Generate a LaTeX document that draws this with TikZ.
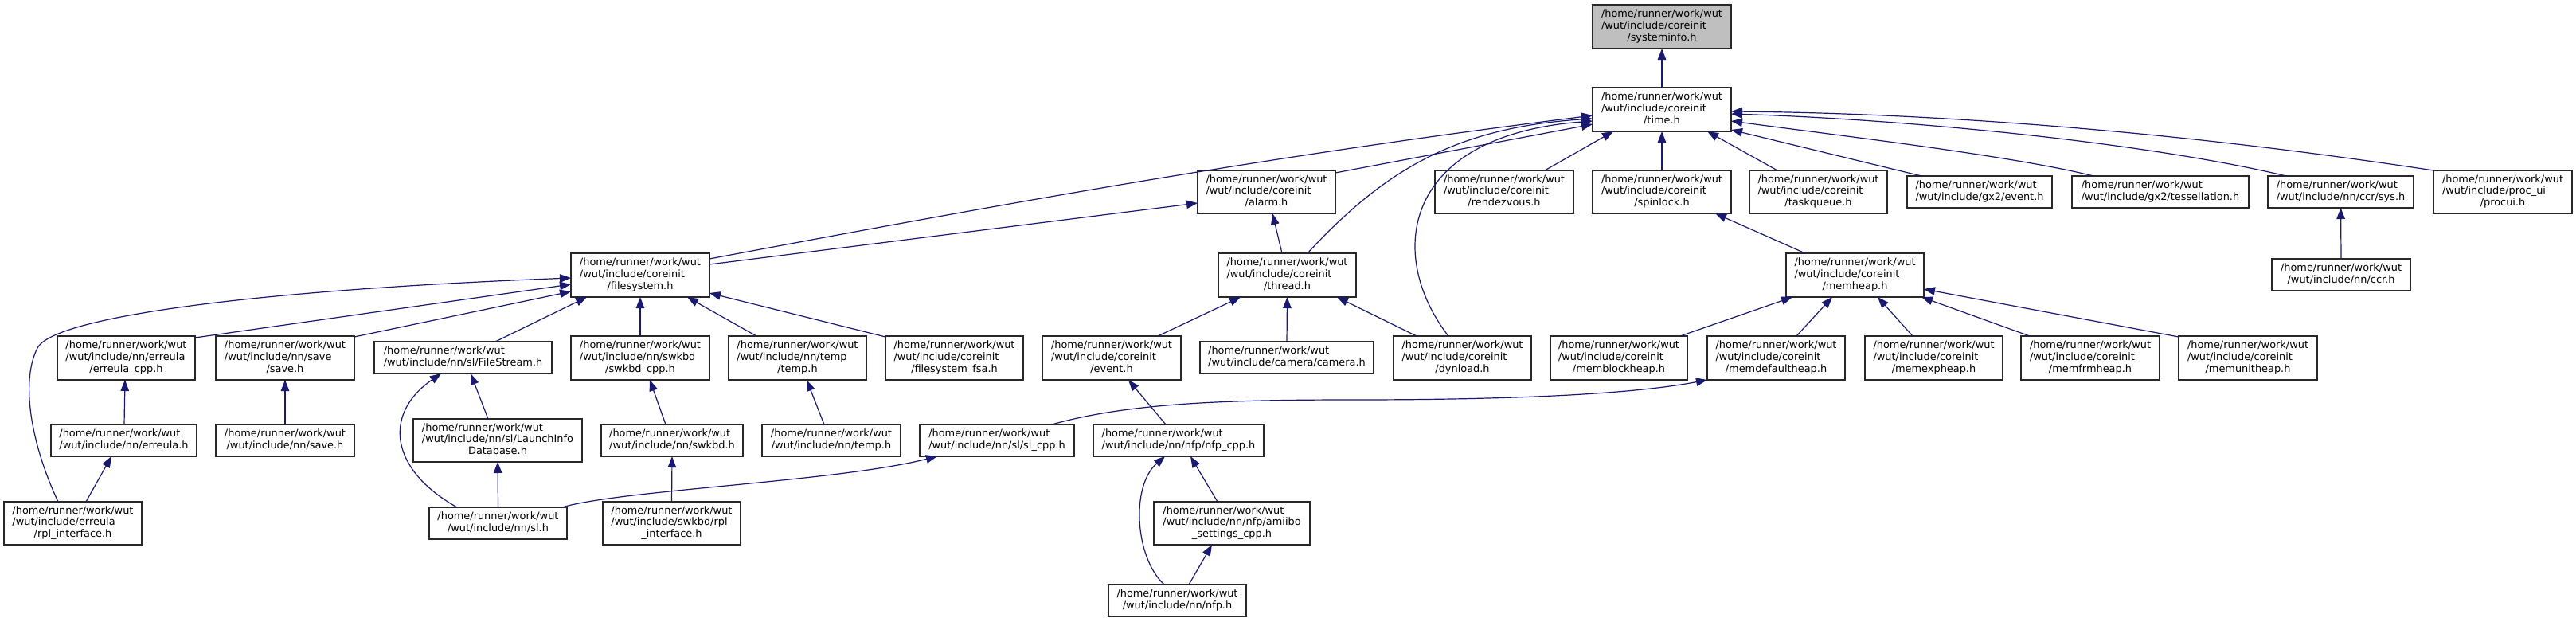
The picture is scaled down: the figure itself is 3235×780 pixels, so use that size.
\documentclass[tikz,border=0pt]{standalone}
\usepackage{fontspec}
\setmainfont{DejaVu Sans}
\usetikzlibrary{arrows.meta,calc}
\definecolor{edgeblue}{RGB}{25,25,112}
\definecolor{rootgray}{RGB}{191,191,191}
\definecolor{bordergray}{RGB}{40,40,40}
\newcommand{\Lthree}[3]{\begin{tabular}{@{}l@{}}#1\\#2\\\multicolumn{1}{@{}c@{}}{#3}\end{tabular}}
\newcommand{\Ltwo}[2]{\begin{tabular}{@{}l@{}}#1\\\multicolumn{1}{@{}c@{}}{#2}\end{tabular}}
\newcommand{\fnode}[7][]{\node[box,#1,minimum width={#4-#3},minimum height={#6-#5}] (#2) at ({(#3+#4)/2},{(#5+#6)/2}) {#7};}
\newcommand{\hrw}{/home/runner/work/wut}
\newcommand{\wic}{/wut/include/coreinit}
\begin{document}
\begin{tikzpicture}[x=1pt,y=-1pt,
  box/.style={draw=bordergray, fill=white, line width=1.2pt, inner sep=0pt, outer sep=0pt, font=\fontsize{12.9}{14.7}\selectfont},
  edge/.style={draw=edgeblue, line width=1.2pt, -{Triangle[length=14pt,width=10.5pt]}, fill=none}]
\fill[white] (0,0) rectangle (3235,780);
\useasboundingbox (0,0) rectangle (3235,780);
% row 0/1
\fnode[fill=rootgray]{sysinfo}{2000}{2174}{6}{61}{\Lthree{\hrw}{\wic}{/systeminfo.h}}
\fnode{time}{2000}{2174}{110}{165}{\Lthree{\hrw}{\wic}{/time.h}}
% row 2
\fnode{alarm}{1504}{1677}{214}{268}{\Lthree{\hrw}{\wic}{/alarm.h}}
\fnode{rendez}{1802}{1976}{214}{268}{\Lthree{\hrw}{\wic}{/rendezvous.h}}
\fnode{spin}{2000}{2174}{214}{268}{\Lthree{\hrw}{\wic}{/spinlock.h}}
\fnode{taskq}{2197}{2370}{214}{268}{\Lthree{\hrw}{\wic}{/taskqueue.h}}
\fnode{gxev}{2395}{2577}{221}{261}{\Ltwo{\hrw}{/wut/include/gx2/event.h}}
\fnode{tess}{2602}{2824}{221}{261}{\Ltwo{\hrw}{/wut/include/gx2/tessellation.h}}
\fnode{sys}{2848}{3031}{221}{261}{\Ltwo{\hrw}{/wut/include/nn/ccr/sys.h}}
\fnode{procui}{3056}{3230}{214}{268}{\Lthree{\hrw}{/wut/include/proc\_ui}{/procui.h}}
% row 3
\fnode{fs}{717}{891}{318}{373}{\Lthree{\hrw}{\wic}{/filesystem.h}}
\fnode{thread}{1530}{1703}{318}{373}{\Lthree{\hrw}{\wic}{/thread.h}}
\fnode{memheap}{2243}{2416}{318}{373}{\Lthree{\hrw}{\wic}{/memheap.h}}
\fnode{ccr}{2853}{3027}{325}{365}{\Ltwo{\hrw}{/wut/include/nn/ccr.h}}
% row 4
\fnode{errcpp}{72}{245}{422}{477}{\Lthree{\hrw}{/wut/include/nn/erreula}{/erreula\_cpp.h}}
\fnode{savesave}{271}{445}{422}{477}{\Lthree{\hrw}{/wut/include/nn/save}{/save.h}}
\fnode{fstream}{470}{693}{429}{469}{\Ltwo{\hrw}{/wut/include/nn/sl/FileStream.h}}
\fnode{swkcpp}{717}{891}{422}{477}{\Lthree{\hrw}{/wut/include/nn/swkbd}{/swkbd\_cpp.h}}
\fnode{temptemp}{915}{1088}{422}{477}{\Lthree{\hrw}{/wut/include/nn/temp}{/temp.h}}
\fnode{fsa}{1112}{1285}{422}{477}{\Lthree{\hrw}{\wic}{/filesystem\_fsa.h}}
\fnode{event}{1309}{1483}{422}{477}{\Lthree{\hrw}{\wic}{/event.h}}
\fnode{camera}{1507}{1725}{429}{469}{\Ltwo{\hrw}{/wut/include/camera/camera.h}}
\fnode{dynload}{1750}{1923}{422}{477}{\Lthree{\hrw}{\wic}{/dynload.h}}
\fnode{memblock}{1947}{2119}{422}{477}{\Lthree{\hrw}{\wic}{/memblockheap.h}}
\fnode{memdef}{2144}{2317}{422}{477}{\Lthree{\hrw}{\wic}{/memdefaultheap.h}}
\fnode{memexp}{2342}{2515}{422}{477}{\Lthree{\hrw}{\wic}{/memexpheap.h}}
\fnode{memfrm}{2538}{2712}{422}{477}{\Lthree{\hrw}{\wic}{/memfrmheap.h}}
\fnode{memunit}{2736}{2910}{422}{477}{\Lthree{\hrw}{\wic}{/memunitheap.h}}
% row 5
\fnode{erreula}{64}{247}{533}{573}{\Ltwo{\hrw}{/wut/include/nn/erreula.h}}
\fnode{nnsave}{271}{445}{533}{573}{\Ltwo{\hrw}{/wut/include/nn/save.h}}
\fnode{lid}{519}{731}{526}{580}{\Lthree{\hrw}{/wut/include/nn/sl/LaunchInfo}{Database.h}}
\fnode{swkbd}{755}{933}{533}{573}{\Ltwo{\hrw}{/wut/include/nn/swkbd.h}}
\fnode{nntemp}{957}{1131}{533}{573}{\Ltwo{\hrw}{/wut/include/nn/temp.h}}
\fnode{slcpp}{1155}{1349}{533}{573}{\Ltwo{\hrw}{/wut/include/nn/sl/sl\_cpp.h}}
\fnode{nfpcpp}{1373}{1587}{533}{573}{\Ltwo{\hrw}{/wut/include/nn/nfp/nfp\_cpp.h}}
% row 6/7
\fnode{rplerr}{5}{178}{630}{684}{\Lthree{\hrw}{/wut/include/erreula}{/rpl\_interface.h}}
\fnode{sl}{539}{712}{637}{677}{\Ltwo{\hrw}{/wut/include/nn/sl.h}}
\fnode{rplswk}{757}{930}{630}{684}{\Lthree{\hrw}{/wut/include/swkbd/rpl}{\_interface.h}}
\fnode{amiibo}{1449}{1645}{630}{684}{\Lthree{\hrw}{/wut/include/nn/nfp/amiibo}{\_settings\_cpp.h}}
\fnode{nfp}{1392}{1565}{734}{774}{\Ltwo{\hrw}{/wut/include/nn/nfp.h}}
% edges
\draw[edge] (time.north) -- (sysinfo.south);
\draw[edge] ($(fs.north west)+(174,7)$) .. controls +(400,-75) and +(-400,50) .. ($(time.north west)+(0,35)$);
\draw[edge] ($(alarm.north west)+(173,3)$) -- ($(time.north west)+(0,46)$);
\draw[edge] ($(thread.north west)+(112,0)$) .. controls +(98,-106) and +(-170,11) .. ($(time.north west)+(0,39)$);
\draw[edge] ($(dynload.north west)+(69,0)$) .. controls +(-79,-102) and +(-240,18) .. ($(time.north west)+(0,42)$);
\draw[edge] ($(rendez.north west)+(138,0)$) -- ($(time.north west)+(26,55)$);
\draw[edge] (spin.north) -- (time.south);
\draw[edge] ($(taskq.north west)+(35,0)$) -- ($(time.north west)+(144,55)$);
\draw[edge] ($(gxev.north west)+(18,0)$) -- ($(time.north west)+(174,53)$);
\draw[edge] ($(tess.north west)+(27,0)$) .. controls +(-100,-25) and +(150,20) .. ($(time.north west)+(174,42)$);
\draw[edge] ($(sys.north west)+(23,0)$) .. controls +(-171,-41) and +(226,7) .. ($(time.north west)+(174,33)$);
\draw[edge] (procui.north west) .. controls +(-356,-54) and +(226,2) .. ($(time.north west)+(174,30)$);
\draw[edge] ($(fs.north west)+(174,14)$) -- ($(alarm.north west)+(0,41)$);
\draw[edge] ($(thread.north west)+(80,0)$) -- ($(alarm.north west)+(94,54)$);
\draw[edge] ($(errcpp.north west)+(173,2)$) -- ($(fs.north west)+(0,39)$);
\draw[edge] ($(savesave.north west)+(174,1)$) -- ($(fs.north west)+(0,48)$);
\draw[edge] ($(fstream.north west)+(152,0)$) -- ($(fs.north west)+(20,55)$);
\draw[edge] (swkcpp.north) -- (fs.south);
\draw[edge] ($(temptemp.north west)+(35,0)$) -- ($(fs.north west)+(146,55)$);
\draw[edge] ($(fsa.north west)+(0,1)$) -- ($(fs.north west)+(174,50)$);
\draw[edge] ($(rplerr.north west)+(68,0)$) .. controls (40,560) and (25,480) .. (47,437) .. controls (65,400) and (300,365) .. ($(fs.north west)+(0,31)$);
\draw[edge] ($(erreula.north west)+(92,0)$) -- ($(errcpp.north west)+(85,55)$);
\draw[edge] ($(rplerr.north west)+(103,0)$) -- ($(erreula.north west)+(76,40)$);
\draw[edge] (nnsave.north) -- (savesave.south);
\draw[edge] ($(sl.north west)+(35,0)$) .. controls (490,590) and (480,520) .. ($(fstream.north west)+(84,40)$);
\draw[edge] ($(lid.north west)+(94,0)$) -- ($(fstream.north west)+(121,40)$);
\draw[edge] (sl.north) -- (lid.south);
\draw[edge] ($(swkbd.north west)+(81,0)$) -- ($(swkcpp.north west)+(99,55)$);
\draw[edge] (rplswk.north) -- (swkbd.south);
\draw[edge] ($(nntemp.north west)+(78,0)$) -- ($(temptemp.north west)+(98,55)$);
\draw[edge] ($(event.north west)+(145,0)$) -- ($(thread.north west)+(28,55)$);
\draw[edge] (camera.north) -- (thread.south);
\draw[edge] ($(dynload.north west)+(29,0)$) -- ($(thread.north west)+(149,55)$);
\draw[edge] ($(nfpcpp.north west)+(91,0)$) -- ($(event.north west)+(108,55)$);
\draw[edge] ($(sl.north west)+(167,0)$) .. controls (780,615) and (1050,605) .. ($(slcpp.north west)+(22,40)$);
\draw[edge] ($(nfp.north west)+(70,0)$) .. controls (1425,700) and (1420,610) .. ($(nfpcpp.north west)+(90,40)$);
\draw[edge] ($(amiibo.north west)+(80,0)$) -- ($(nfpcpp.north west)+(122,40)$);
\draw[edge] ($(nfp.north west)+(101,0)$) -- ($(amiibo.north west)+(73,54)$);
\draw[edge] ($(memheap.north west)+(24,0)$) -- ($(spin.north west)+(154,54)$);
\draw[edge] ($(memblock.north west)+(163,0)$) -- ($(memheap.north west)+(8,55)$);
\draw[edge] ($(memdef.north west)+(112,0)$) -- ($(memheap.north west)+(58,55)$);
\draw[edge] ($(memexp.north west)+(60,0)$) -- ($(memheap.north west)+(115,55)$);
\draw[edge] ($(memfrm.north west)+(11,0)$) -- ($(memheap.north west)+(170,55)$);
\draw[edge] ($(memunit.north west)+(0,1)$) -- ($(memheap.north west)+(173,45)$);
\draw[edge] ($(slcpp.north west)+(166,0)$) .. controls (1420,505) and (1550,502) .. (1700,502) .. controls (1900,502) and (2050,495) .. ($(memdef.north west)+(0,55)$);
\draw[edge] (ccr.north) -- (sys.south);
\end{tikzpicture}
\end{document}
